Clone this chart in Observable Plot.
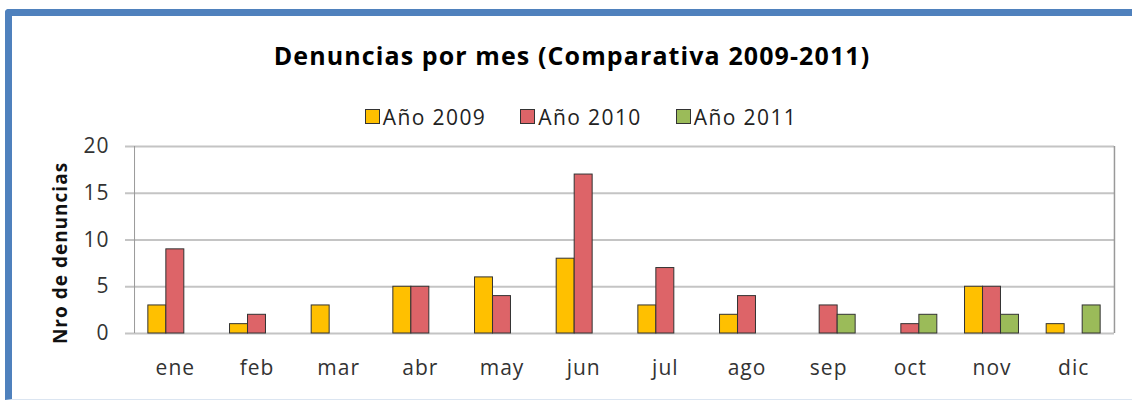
<!DOCTYPE html>
<html>
<head>
<meta charset="utf-8">
<script src="https://cdn.jsdelivr.net/npm/d3@7"></script>
<script src="https://cdn.jsdelivr.net/npm/@observablehq/plot@0.6"></script>
<style>
  html, body { margin: 0; padding: 0; background: #fff; }
  #wrap { position: relative; width: 1132px; height: 403px; overflow: hidden; font-family: "Open Sans", Lato, sans-serif; }
  #border { position: absolute; left: 5px; top: 9px; width: 1140px; height: 391px; border-top: 7px solid #4F81BD; border-left: 7px solid #4F81BD; border-bottom: 1px solid #dbe5f1; border-top-left-radius: 4px; box-sizing: border-box; }
  #title { position: absolute; left: 6px; width: 1132px; top: 38px; text-align: center; font-weight: bold; font-size: 25px; letter-spacing: 1.1px; color: #000; }
  #legend { position: absolute; left: 15px; width: 1132px; top: 102px; text-align: center; font-size: 21px; letter-spacing: 1.4px; color: #222; }
  .item { display: inline-flex; align-items: center; margin: 0 17px; }
  .sw { display: inline-block; width: 13px; height: 13px; border: 1px solid #333; margin-right: 3px; }
  #chart { position: absolute; left: 0; top: 130px; }
  #chart svg text { letter-spacing: 1px; }
</style>
</head>
<body>
<div id="wrap">
  <div id="border"></div>
  <div id="title">Denuncias por mes (Comparativa 2009-2011)</div>
  <div id="legend"></div>
  <div id="chart"></div>
</div>
<script>
const months = ["ene","feb","mar","abr","may","jun","jul","ago","sep","oct","nov","dic"];
const seriesNames = ["Año 2009","Año 2010","Año 2011"];
const colors = ["#FFC000","#DD6468","#9BBB59"];
const v2009 = [3,1,3,5,6,8,3,2,0,0,5,1];
const v2010 = [9,2,0,5,4,17,7,4,3,1,5,0];
const v2011 = [0,0,0,0,0,0,0,0,2,2,2,3];
const yTicks = [0,5,10,15,20];
const yLabel = "Nro de denuncias";

const seriesValues = [v2009, v2010, v2011];
const offsets = [-18, 0, 18];

// legend
const legend = document.getElementById("legend");
seriesNames.forEach((s, i) => {
  const it = document.createElement("span");
  it.className = "item";
  it.innerHTML = `<span class="sw" style="background:${colors[i]}"></span>${s}`;
  legend.appendChild(it);
});

const marks = [
  Plot.ruleY(yTicks, {stroke: "#c4c4c4", strokeWidth: 2, insetLeft: -9}),
  Plot.ruleX([months[0]], {stroke: "#999", strokeWidth: 1, dx: -40.8})
];
seriesValues.forEach((vals, i) => {
  const data = months.map((m, j) => ({month: m, value: vals[j], series: seriesNames[i]})).filter(d => d.value > 0);
  marks.push(Plot.barY(data, {x: "month", y: "value", fill: colors[i], stroke: "#333", strokeWidth: 1, dx: offsets[i]}));
});
marks.push(Plot.ruleX([months[11]], {stroke: "#999", strokeWidth: 1.5, dx: 40.8}));

const chart = Plot.plot({
  width: 1132,
  height: 273,
  marginLeft: 134,
  marginRight: 18,
  marginTop: 16,
  marginBottom: 70,
  style: {fontFamily: "'Open Sans', Lato, sans-serif", background: "transparent", color: "#333"},
  x: {domain: months, paddingInner: 0.78, paddingOuter: 0.39, round: false, label: null},
  y: {domain: [0, 20], label: null},
  marks: [
    ...marks,
    Plot.axisX({tickSize: 0, tickPadding: 27, fontSize: 21, label: null}),
    Plot.axisY(yTicks, {tickSize: 0, tickPadding: 25, fontSize: 21, label: null}),
    Plot.text([yLabel], {frameAnchor: "left", textAnchor: "middle", dx: -74, dy: 13, rotate: -90, fontWeight: "bold", fontSize: 19, fill: "#111"})
  ]
});
document.getElementById("chart").appendChild(chart);
</script>
</body>
</html>
